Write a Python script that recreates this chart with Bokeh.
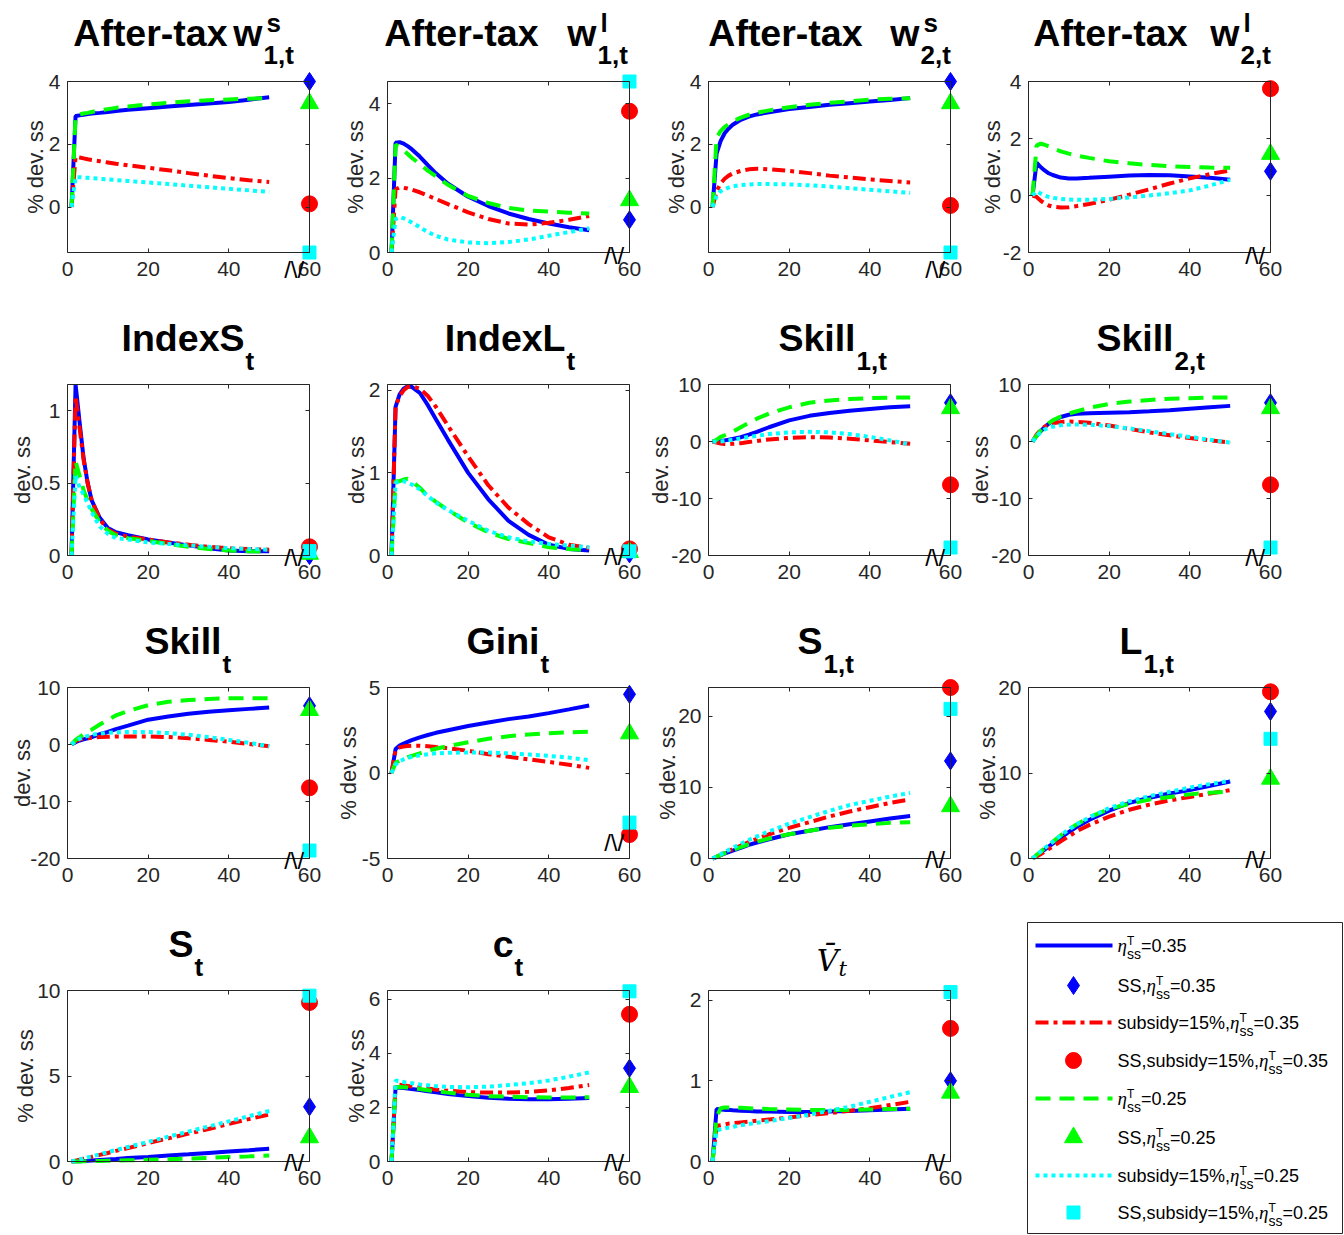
import math
from bokeh.plotting import figure
from bokeh.models import (Range1d, LinearAxis, FixedTicker, CustomJSTickFormatter, Label,
                          ColumnDataSource, Spacer)
from bokeh.layouts import row, column
from bokeh.embed import file_html
from bokeh.resources import INLINE

# ---------------- data ----------------
T = [1, 2, 3, 4, 5, 6, 8, 10, 12, 15, 20, 25, 30, 35, 40, 45, 50]
X_TICKS = [0, 20, 40, 60]
SS_X = 60
# series: blue = eta 0.35, red = subsidy 15% eta 0.35, green = eta 0.25, cyan = subsidy 15% eta 0.25
# ss lists: [diamond(blue), circle(red), triangle(green), square(cyan)]

w1s_blue = [0, 2.90, 2.92, 2.94, 2.96, 2.98, 3.00, 3.03, 3.06, 3.10, 3.15, 3.20, 3.25, 3.30, 3.35, 3.42, 3.50]
w1s_red = [0, 1.60, 1.58, 1.55, 1.52, 1.50, 1.46, 1.42, 1.38, 1.33, 1.25, 1.17, 1.08, 1.00, 0.92, 0.85, 0.80]
w1s_green = [0, 2.90, 2.95, 2.98, 3.00, 3.03, 3.08, 3.12, 3.16, 3.20, 3.27, 3.32, 3.37, 3.40, 3.43, 3.45, 3.47]
w1s_cyan = [0, 0.95, 0.95, 0.94, 0.93, 0.92, 0.90, 0.88, 0.86, 0.83, 0.78, 0.73, 0.68, 0.63, 0.58, 0.53, 0.48]
w1s_ss = [4.0, 0.1, 3.3, -1.45]

w1l_blue = [0, 2.95, 2.97, 2.93, 2.86, 2.78, 2.58, 2.35, 2.13, 1.85, 1.50, 1.25, 1.05, 0.90, 0.78, 0.68, 0.60]
w1l_red = [0, 1.70, 1.75, 1.74, 1.72, 1.69, 1.62, 1.53, 1.44, 1.30, 1.08, 0.90, 0.78, 0.75, 0.80, 0.88, 0.98]
w1l_green = [0, 2.90, 2.85, 2.75, 2.65, 2.55, 2.38, 2.20, 2.05, 1.82, 1.52, 1.33, 1.20, 1.13, 1.10, 1.07, 1.05]
w1l_cyan = [0, 0.90, 0.95, 0.92, 0.87, 0.81, 0.68, 0.55, 0.45, 0.35, 0.27, 0.25, 0.28, 0.35, 0.45, 0.55, 0.65]
w1l_ss = [0.88, 3.8, 1.4, 4.6]

w2s_blue = [0, 1.70, 2.10, 2.35, 2.50, 2.62, 2.78, 2.88, 2.95, 3.02, 3.12, 3.19, 3.26, 3.31, 3.36, 3.41, 3.47]
w2s_red = [0, 0.50, 0.75, 0.90, 1.00, 1.07, 1.15, 1.20, 1.22, 1.20, 1.15, 1.08, 1.00, 0.94, 0.88, 0.83, 0.78]
w2s_green = [0, 2.20, 2.42, 2.55, 2.65, 2.73, 2.85, 2.94, 3.00, 3.08, 3.18, 3.26, 3.32, 3.37, 3.42, 3.45, 3.47]
w2s_cyan = [0, 0.35, 0.50, 0.57, 0.62, 0.66, 0.70, 0.72, 0.73, 0.73, 0.72, 0.69, 0.65, 0.60, 0.55, 0.50, 0.45]
w2s_ss = [4.0, 0.05, 3.3, -1.45]

w2l_blue = [0, 1.15, 1.00, 0.88, 0.78, 0.72, 0.63, 0.60, 0.60, 0.62, 0.66, 0.70, 0.72, 0.71, 0.67, 0.62, 0.55]
w2l_red = [0, -0.05, -0.18, -0.28, -0.35, -0.39, -0.42, -0.41, -0.37, -0.30, -0.15, 0.03, 0.22, 0.42, 0.60, 0.75, 0.88]
w2l_green = [0, 1.75, 1.82, 1.78, 1.72, 1.66, 1.55, 1.47, 1.40, 1.32, 1.20, 1.13, 1.07, 1.03, 1.00, 0.98, 0.97]
w2l_cyan = [0, 0.15, 0.07, 0.00, -0.05, -0.08, -0.12, -0.14, -0.15, -0.15, -0.12, -0.07, 0.00, 0.08, 0.18, 0.35, 0.55]
w2l_ss = [0.85, 3.75, 1.45, None]

idxS_blue = [0, 1.18, 0.92, 0.67, 0.50, 0.38, 0.26, 0.19, 0.16, 0.14, 0.11, 0.09, 0.07, 0.05, 0.035, 0.03, 0.03]
idxS_red = [0, 1.10, 0.88, 0.66, 0.50, 0.38, 0.25, 0.18, 0.15, 0.13, 0.11, 0.09, 0.075, 0.06, 0.05, 0.045, 0.04]
idxS_green = [0, 0.65, 0.55, 0.45, 0.38, 0.32, 0.23, 0.17, 0.14, 0.12, 0.10, 0.08, 0.06, 0.045, 0.035, 0.03, 0.025]
idxS_cyan = [0, 0.55, 0.47, 0.42, 0.36, 0.30, 0.20, 0.15, 0.12, 0.11, 0.09, 0.08, 0.07, 0.06, 0.05, 0.045, 0.04]
idxS_ss = [0.0, 0.06, 0.01, 0.03]

idxL_blue = [0, 1.80, 1.95, 2.02, 2.05, 2.04, 1.97, 1.82, 1.65, 1.40, 1.00, 0.68, 0.42, 0.25, 0.13, 0.08, 0.06]
idxL_red = [0, 1.80, 1.93, 2.00, 2.04, 2.05, 2.02, 1.93, 1.80, 1.57, 1.20, 0.85, 0.58, 0.38, 0.22, 0.13, 0.09]
idxL_green = [0, 0.90, 0.90, 0.92, 0.93, 0.90, 0.82, 0.72, 0.65, 0.55, 0.40, 0.28, 0.20, 0.15, 0.10, 0.08, 0.06]
idxL_cyan = [0, 0.88, 0.90, 0.90, 0.88, 0.86, 0.80, 0.72, 0.64, 0.55, 0.42, 0.30, 0.22, 0.17, 0.14, 0.12, 0.10]
idxL_ss = [0.02, 0.08, 0.04, 0.05]

sk1_blue = [0, 0.05, 0.10, 0.20, 0.30, 0.45, 0.75, 1.20, 1.70, 2.50, 3.70, 4.50, 5.00, 5.40, 5.70, 6.00, 6.20]
sk1_red = [0, -0.20, -0.35, -0.45, -0.45, -0.40, -0.30, -0.10, 0.10, 0.35, 0.65, 0.75, 0.70, 0.50, 0.20, -0.10, -0.40]
sk1_green = [0, 0.30, 0.80, 1.10, 1.40, 1.70, 2.50, 3.30, 4.00, 4.90, 6.00, 6.80, 7.20, 7.45, 7.60, 7.70, 7.70]
sk1_cyan = [0, -0.05, 0.00, 0.10, 0.20, 0.30, 0.55, 0.80, 1.00, 1.30, 1.60, 1.70, 1.60, 1.30, 0.80, 0.20, -0.50]
sk1_ss = [6.8, -7.6, 5.8, -18.6]

sk2_blue = [0, 1.00, 1.80, 2.50, 3.10, 3.60, 4.30, 4.70, 4.85, 4.95, 5.05, 5.15, 5.30, 5.50, 5.75, 6.00, 6.25]
sk2_red = [0, 1.20, 2.00, 2.60, 3.00, 3.20, 3.40, 3.50, 3.45, 3.30, 2.80, 2.20, 1.60, 1.10, 0.60, 0.20, -0.20]
sk2_green = [0, 1.00, 1.90, 2.60, 3.20, 3.70, 4.40, 4.90, 5.30, 5.90, 6.60, 7.00, 7.30, 7.50, 7.60, 7.70, 7.70]
sk2_cyan = [0, 0.90, 1.60, 2.10, 2.40, 2.60, 2.85, 2.95, 3.00, 2.95, 2.70, 2.30, 1.80, 1.30, 0.80, 0.30, -0.20]
sk2_ss = [6.8, -7.6, 5.8, -18.6]

skill_blue = [0, 0.40, 0.70, 0.90, 1.10, 1.30, 1.80, 2.20, 2.70, 3.30, 4.35, 4.90, 5.40, 5.75, 6.00, 6.25, 6.50]
skill_red = [0, 0.60, 0.90, 1.00, 1.10, 1.20, 1.30, 1.35, 1.40, 1.40, 1.40, 1.30, 1.10, 0.80, 0.50, 0.10, -0.30]
skill_green = [0, 0.80, 1.30, 1.80, 2.20, 2.60, 3.50, 4.30, 5.10, 5.90, 6.90, 7.50, 7.80, 8.00, 8.10, 8.10, 8.10]
skill_cyan = [0, 0.60, 1.00, 1.30, 1.50, 1.70, 1.90, 2.05, 2.15, 2.20, 2.20, 2.00, 1.70, 1.30, 0.80, 0.30, -0.30]
skill_ss = [6.8, -7.6, 6.0, -18.6]

gini_blue = [0, 1.40, 1.60, 1.72, 1.82, 1.92, 2.08, 2.22, 2.35, 2.50, 2.75, 2.95, 3.15, 3.30, 3.50, 3.72, 3.95]
gini_red = [0, 1.35, 1.50, 1.55, 1.58, 1.60, 1.60, 1.57, 1.52, 1.45, 1.30, 1.10, 0.95, 0.80, 0.65, 0.48, 0.30]
gini_green = [0, 0.60, 0.72, 0.82, 0.92, 1.00, 1.15, 1.30, 1.42, 1.58, 1.80, 2.00, 2.15, 2.25, 2.33, 2.38, 2.42]
gini_cyan = [0, 0.50, 0.68, 0.80, 0.88, 0.94, 1.03, 1.10, 1.15, 1.18, 1.20, 1.20, 1.15, 1.08, 1.00, 0.90, 0.75]
gini_ss = [4.6, -3.6, 2.3, -2.9]

s1_blue = [0, 0.20, 0.45, 0.70, 0.90, 1.10, 1.50, 1.90, 2.25, 2.70, 3.40, 3.90, 4.40, 4.80, 5.20, 5.60, 5.95]
s1_red = [0, 0.25, 0.50, 0.80, 1.05, 1.30, 1.80, 2.30, 2.75, 3.40, 4.30, 5.10, 5.90, 6.60, 7.20, 7.80, 8.30]
s1_green = [0, 0.25, 0.50, 0.75, 0.95, 1.20, 1.60, 2.00, 2.35, 2.80, 3.40, 3.90, 4.30, 4.60, 4.80, 5.00, 5.10]
s1_cyan = [0, 0.30, 0.60, 0.90, 1.20, 1.50, 2.05, 2.60, 3.10, 3.80, 4.90, 5.80, 6.70, 7.50, 8.10, 8.70, 9.20]
s1_ss = [13.7, 24.0, 7.3, 21.0]

l1_blue = [0, 0.35, 0.70, 1.05, 1.40, 1.75, 2.40, 3.10, 3.70, 4.50, 5.60, 6.50, 7.10, 7.60, 8.00, 8.50, 9.00]
l1_red = [0, 0.25, 0.50, 0.80, 1.10, 1.40, 2.00, 2.60, 3.20, 3.90, 4.90, 5.70, 6.30, 6.80, 7.20, 7.60, 8.00]
l1_green = [0, 0.40, 0.80, 1.20, 1.60, 1.95, 2.70, 3.40, 4.00, 4.80, 5.80, 6.40, 6.90, 7.20, 7.50, 7.70, 7.80]
l1_cyan = [0, 0.40, 0.80, 1.20, 1.60, 1.95, 2.70, 3.40, 4.00, 4.80, 5.90, 6.70, 7.30, 7.80, 8.30, 8.70, 9.10]
l1_ss = [17.2, 19.5, 9.3, 14.0]

st_blue = [0, 0.01, 0.02, 0.03, 0.04, 0.06, 0.09, 0.12, 0.15, 0.20, 0.27, 0.35, 0.42, 0.50, 0.58, 0.66, 0.75]
st_red = [0, 0.05, 0.10, 0.16, 0.22, 0.27, 0.39, 0.50, 0.62, 0.78, 1.08, 1.35, 1.63, 1.90, 2.20, 2.48, 2.75]
st_green = [0, 0.00, 0.00, 0.01, 0.01, 0.02, 0.03, 0.04, 0.05, 0.07, 0.10, 0.13, 0.17, 0.21, 0.26, 0.30, 0.35]
st_cyan = [0, 0.06, 0.12, 0.18, 0.24, 0.30, 0.42, 0.55, 0.67, 0.85, 1.15, 1.45, 1.75, 2.05, 2.35, 2.65, 2.95]
st_ss = [3.2, 9.3, 1.4, 9.7]

ct_blue = [0, 2.75, 2.73, 2.72, 2.70, 2.68, 2.65, 2.60, 2.56, 2.50, 2.42, 2.36, 2.32, 2.30, 2.30, 2.32, 2.35]
ct_red = [0, 2.85, 2.84, 2.82, 2.80, 2.78, 2.74, 2.70, 2.66, 2.62, 2.57, 2.55, 2.55, 2.58, 2.63, 2.72, 2.83]
ct_green = [0, 2.75, 2.76, 2.75, 2.74, 2.72, 2.68, 2.64, 2.60, 2.55, 2.47, 2.42, 2.40, 2.38, 2.37, 2.37, 2.38]
ct_cyan = [0, 3.00, 2.97, 2.94, 2.92, 2.90, 2.85, 2.82, 2.79, 2.76, 2.75, 2.77, 2.83, 2.90, 3.00, 3.14, 3.30]
ct_ss = [3.45, 5.45, 2.75, 6.3]

vt_blue = [0, 0.65, 0.645, 0.64, 0.64, 0.635, 0.63, 0.625, 0.62, 0.62, 0.615, 0.615, 0.62, 0.625, 0.635, 0.645, 0.655]
vt_red = [0, 0.44, 0.45, 0.46, 0.47, 0.475, 0.485, 0.495, 0.505, 0.52, 0.545, 0.575, 0.60, 0.63, 0.66, 0.70, 0.74]
vt_green = [0, 0.55, 0.66, 0.67, 0.67, 0.67, 0.665, 0.66, 0.655, 0.65, 0.645, 0.64, 0.64, 0.64, 0.645, 0.65, 0.655]
vt_cyan = [0, 0.38, 0.40, 0.41, 0.42, 0.43, 0.45, 0.465, 0.48, 0.50, 0.54, 0.58, 0.63, 0.68, 0.74, 0.80, 0.86]
vt_ss = [1.0, 1.65, 0.85, 2.1]

SERIES = [
    (w1s_blue, w1s_red, w1s_green, w1s_cyan, w1s_ss),
    (w1l_blue, w1l_red, w1l_green, w1l_cyan, w1l_ss),
    (w2s_blue, w2s_red, w2s_green, w2s_cyan, w2s_ss),
    (w2l_blue, w2l_red, w2l_green, w2l_cyan, w2l_ss),
    (idxS_blue, idxS_red, idxS_green, idxS_cyan, idxS_ss),
    (idxL_blue, idxL_red, idxL_green, idxL_cyan, idxL_ss),
    (sk1_blue, sk1_red, sk1_green, sk1_cyan, sk1_ss),
    (sk2_blue, sk2_red, sk2_green, sk2_cyan, sk2_ss),
    (skill_blue, skill_red, skill_green, skill_cyan, skill_ss),
    (gini_blue, gini_red, gini_green, gini_cyan, gini_ss),
    (s1_blue, s1_red, s1_green, s1_cyan, s1_ss),
    (l1_blue, l1_red, l1_green, l1_cyan, l1_ss),
    (st_blue, st_red, st_green, st_cyan, st_ss),
    (ct_blue, ct_red, ct_green, ct_cyan, ct_ss),
    (vt_blue, vt_red, vt_green, vt_cyan, vt_ss),
]
YLIMS = [(-1.45, 4), (0, 4.6), (-1.45, 4), (-2, 4),
         (0, 1.18), (0, 2.07), (-20, 10), (-20, 10),
         (-20, 10), (-5, 5), (0, 24), (0, 20),
         (0, 10), (0, 6.33), (0, 2.12)]
YTICKS = [[0, 2, 4], [0, 2, 4], [0, 2, 4], [-2, 0, 2, 4],
          [0, 0.5, 1], [0, 1, 2], [-20, -10, 0, 10], [-20, -10, 0, 10],
          [-20, -10, 0, 10], [-5, 0, 5], [0, 10, 20], [0, 10, 20],
          [0, 5, 10], [0, 2, 4, 6], [0, 1, 2]]
YLABELS = ["% dev. ss"] * 4 + ["dev. ss"] * 5 + ["% dev. ss"] * 5 + [None]
# title: (lead word, base, superscript, subscript)
TITLES = [("After-tax", "w", "s", "1,t"), ("After-tax", "w", "l", "1,t"),
          ("After-tax", "w", "s", "2,t"), ("After-tax", "w", "l", "2,t"),
          (None, "IndexS", None, "t"), (None, "IndexL", None, "t"),
          (None, "Skill", None, "1,t"), (None, "Skill", None, "2,t"),
          (None, "Skill", None, "t"), (None, "Gini", None, "t"),
          (None, "S", None, "1,t"), (None, "L", None, "1,t"),
          (None, "S", None, "t"), (None, "c", None, "t"),
          (None, "V\u0304", None, "t")]
LEG_PREFIX = ["", "SS,", "subsidy=15%,", "SS,subsidy=15%,", "", "SS,", "subsidy=15%,", "SS,subsidy=15%,"]
LEG_VALUE = ["=0.35", "=0.35", "=0.35", "=0.35", "=0.25", "=0.25", "=0.25", "=0.25"]

# ---------------- styling / layout ----------------
COLORS = ["#0000ff", "#ff0000", "#00ff00", "#00ffff"]
DASHES = ["solid", "13 5 4 5", "15 9", "4 4"]
MARKERS = [("diamond", 18), ("circle", 16), ("triangle", 18), ("square", 13)]
LINE_W = 4
AXC = "#262626"
FIG_W, FIG_H = 320, 303
BOX_W, BOX_H = 242, 171
BOX_TOP = 73
LEFT_BORDER = [59, 59, 60, 60]
MARGIN = 8
MID = 0.35  # distance (em) from the alphabetic baseline up to the text middle
TITLE_ANCHOR = [263, 597, 920, 1240, 245, 566, 856, 1174, 222, 540, 823, 1143, 194, 514, 838]
LEAD_END = [227, 538, 862, 1187]
YLAB_OFF = [32, 32, 32, 36, 45, 31, 48, 48, 45, 39, 41, 41, 42, 31, None]
BRK_DY = [-17, -3, -17, -3, -2, -1, -2, -2, -2, 16, -1, -1, -1, -1, -1]


def fmt():
    return CustomJSTickFormatter(code="return String(Math.round(tick*1000)/1000);")


def blank():
    return CustomJSTickFormatter(code="return '';")


def style_axis(ax, standoff):
    ax.axis_line_color = AXC
    ax.axis_line_width = 1
    ax.major_tick_line_color = AXC
    ax.major_tick_in = 4
    ax.major_tick_out = 0
    ax.minor_tick_line_color = None
    ax.major_label_text_font = "Liberation Sans"
    ax.major_label_text_font_size = "21px"
    ax.major_label_text_color = AXC
    ax.major_label_standoff = standoff


def add_label(p, x, y, text, size, dx=0, dy=0, align="left", baseline="middle",
              font="Liberation Sans", style="normal", color="black", angle=0.0):
    p.add_layout(Label(x=x, y=y, x_offset=dx, y_offset=dy, text=text, text_font=font,
                       text_font_size=f"{size}px", text_font_style=style, text_color=color,
                       text_align=align, text_baseline=baseline, angle=angle))


def add_text_on_baseline(p, x, y, text, size, dx, base_dy, **kw):
    # place text whose alphabetic baseline sits base_dy px above (x, y)
    add_label(p, x, y, text, size, dx=dx, dy=base_dy + MID * size, baseline="middle", **kw)


def bare_figure(w, h, xr, yr):
    p = figure(width=w, height=h, x_range=xr, y_range=yr, title=None,
               x_axis_location=None, y_axis_location=None, toolbar_location=None,
               output_backend="svg",
               min_border_left=0, min_border_right=0, min_border_top=0, min_border_bottom=0)
    p.grid.visible = False
    p.outline_line_color = None
    p.background_fill_color = "white"
    p.border_fill_color = "white"
    return p


def build_panel(i):
    col, rw = i % 4, i // 4
    blue, red, green, cyan, ss = SERIES[i]
    ymin, ymax = YLIMS[i]
    uy = (ymax - ymin) / BOX_H
    ux = 60.0 / BOX_W
    lb = LEFT_BORDER[col]
    rb = FIG_W - lb - BOX_W
    bb = FIG_H - BOX_TOP - BOX_H
    p = bare_figure(FIG_W, FIG_H,
                    Range1d(-lb * ux, 60 + rb * ux),
                    Range1d(ymin - bb * uy, ymax + BOX_TOP * uy))

    yt = FixedTicker(ticks=YTICKS[i], minor_ticks=[])
    xt = FixedTicker(ticks=X_TICKS, minor_ticks=[])
    left = LinearAxis(ticker=yt, bounds=(ymin, ymax), fixed_location=0, formatter=fmt())
    bottom = LinearAxis(ticker=xt, bounds=(0, 60), fixed_location=ymin, formatter=fmt())
    right = LinearAxis(ticker=yt, bounds=(ymin, ymax), fixed_location=60, formatter=blank())
    top = LinearAxis(ticker=xt, bounds=(0, 60), fixed_location=ymax, formatter=blank())
    style_axis(left, 7)
    style_axis(bottom, 9)
    style_axis(right, 0)
    style_axis(top, 0)
    p.add_layout(left, "left")
    p.add_layout(bottom, "below")
    p.add_layout(right, "right")
    p.add_layout(top, "above")

    for vals, c, d in zip((blue, red, green, cyan), COLORS, DASHES):
        src = ColumnDataSource(dict(t=T, v=vals))
        p.line("t", "v", source=src, line_color=c, line_width=LINE_W, line_dash=d)
    for val, c, (m, s) in zip(ss, COLORS, MARKERS):
        if val is None:
            continue
        src = ColumnDataSource(dict(x=[SS_X], y=[val]))
        p.scatter("x", "y", source=src, marker=m, size=s, fill_color=c, line_color=c)

    # axis-break symbol on the time axis
    add_label(p, 56.2, ymin, "/\\/", 24, dy=BRK_DY[i], align="center")

    if YLABELS[i]:
        add_label(p, 0, (ymin + ymax) / 2, YLABELS[i], 22, dx=-YLAB_OFF[i], align="center",
                  color=AXC, angle=math.pi / 2)

    box_left = MARGIN + FIG_W * col + lb
    lead, base, sup, sub = TITLES[i]
    a = TITLE_ANCHOR[i] - box_left
    if i == 14:
        add_text_on_baseline(p, 0, ymax, base, 30, a, 20, align="right", font="DejaVu Serif", style="italic")
        add_text_on_baseline(p, 0, ymax, sub, 21, a, 14, align="left", font="DejaVu Serif", style="italic")
    else:
        big = 35 if rw == 0 else 33
        small = 17 if rw == 0 else 14
        if lead:
            add_text_on_baseline(p, 0, ymax, lead, 37.5, LEAD_END[col] - box_left, big, align="right", style="bold")
        add_text_on_baseline(p, 0, ymax, base, 37.5, a - 1, big, align="right", style="bold")
        if sup:
            add_text_on_baseline(p, 0, ymax, sup, 26, a + 3, 49, align="left", style="bold")
        add_text_on_baseline(p, 0, ymax, sub, 26, a, small, align="left", style="bold")
    return p


ARIAL_W = {'S': 667, 's': 500, ',': 278, 'u': 556, 'b': 556, 'i': 222, 'd': 556, 'y': 500,
           '=': 584, '1': 556, '5': 556, '%': 889, '0': 556, '.': 278, '3': 556, '2': 556}


def text_w(s, size):
    return sum(ARIAL_W.get(ch, 556) for ch in s) * size / 1000.0


def build_legend():
    LW, LH = 315, 311
    left_gap, top_gap = 59, 5
    fw, fh = left_gap + LW + 1, top_gap + LH + 1
    # y axis points downward here (px from the legend box top)
    leg = bare_figure(fw, fh, Range1d(-left_gap, LW + 1), Range1d(LH + 1, -top_gap))
    leg.quad(left=[0], right=[LW], top=[0], bottom=[LH], fill_color="white", line_color=AXC, line_width=1)
    ys = [23, 63, 100, 138, 176, 215, 253, 290]
    fs = 18

    def put(x, base_y, text, size, **kw):
        add_label(leg, x, base_y - MID * size, text, size, **kw)

    for k in range(8):
        yc = ys[k]
        si = k // 2
        if k % 2 == 0:
            leg.line([8, 85], [yc, yc], line_color=COLORS[si], line_width=LINE_W, line_dash=DASHES[si])
        else:
            m, s = MARKERS[si]
            leg.scatter([46], [yc], marker=m, size=s, fill_color=COLORS[si], line_color=COLORS[si])
        x0 = 90
        pre = LEG_PREFIX[k]
        if pre:
            put(x0, yc + 7, pre, fs)
        xe = x0 + text_w(pre, fs)
        put(xe, yc + 7, "\u03b7", 19, font="Liberation Serif", style="italic")
        xs = xe + 9.5
        put(xs, yc, "T", 12)
        put(xs, yc + 13, "ss", 14)
        put(xs + 14, yc + 7, LEG_VALUE[k], fs)
    return leg


panels = [build_panel(i) for i in range(15)]
legend_fig = build_legend()
grid = column(
    row(*panels[0:4]),
    row(*panels[4:8]),
    row(*panels[8:12]),
    row(panels[12], panels[13], panels[14], legend_fig),
)
layout = column(Spacer(height=MARGIN), row(Spacer(width=MARGIN), grid))

open("out.html", "w").write(file_html(layout, INLINE))
